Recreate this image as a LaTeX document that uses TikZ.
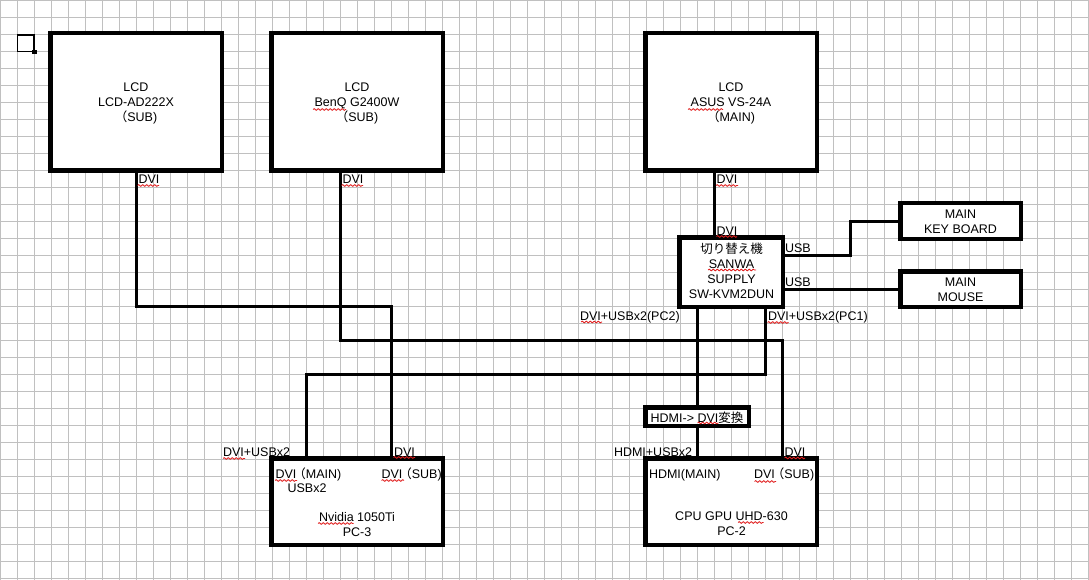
\documentclass[tikz,border=0pt]{standalone}
\usepackage{fontspec}
\setmainfont{Liberation Sans}
\newfontfamily\jp{Noto Sans CJK JP}
\usetikzlibrary{decorations.pathmorphing}
\definecolor{gridc}{RGB}{192,192,192}
\definecolor{wavec}{RGB}{225,30,30}
\newcommand\zkp{\kern-3pt{\jp （}}
\begin{document}
\begin{tikzpicture}[x=1pt,y=-1pt,
  box/.style={draw, line width=3pt, fill=white, inner sep=0pt, rectangle},
  wire/.style={line width=3pt},
  lbl/.style={inner sep=0pt, outer sep=0pt, font=\fontsize{12.5}{15}\selectfont},
  ml/.style={lbl, align=center, anchor=base},
  wavy/.style={draw=wavec, line width=0.8pt, decorate,
    decoration={snake, amplitude=0.9pt, segment length=4pt}}]
\useasboundingbox (0,0) rectangle (1089,580);
\fill[white] (0,0) rectangle (1089,580);
% grid
\foreach \i in {0,...,64} \draw[gridc, line width=1pt] (17*\i+0.5,0) -- (17*\i+0.5,580);
\foreach \j in {0,...,34} \draw[gridc, line width=1pt] (0,17*\j+0.5) -- (1089,17*\j+0.5);

% selection handle
\draw[line width=1.5pt] (17.5,35) rectangle (34,51.5);
\fill (32,50) rectangle (36.5,54.3);

% boxes
\node[box, minimum width=170pt, minimum height=136pt] (lcd1) at (136,102) {};
\node[box, minimum width=170pt, minimum height=136pt] (lcd2) at (357,102) {};
\node[box, minimum width=170pt, minimum height=136pt] (lcd3) at (731,102) {};
\node[box, minimum width=102pt, minimum height=68pt] (sw) at (731,272) {};
\node[box, minimum width=119pt, minimum height=34pt] (kb) at (960.5,221) {};
\node[box, minimum width=119pt, minimum height=34pt] (ms) at (960.5,289) {};
\node[box, minimum width=102pt, minimum height=17pt] (hdmi) at (697,416.5) {};
\node[box, minimum width=170pt, minimum height=85pt] (pc3) at (357,501.5) {};
\node[box, minimum width=170pt, minimum height=85pt] (pc2) at (731,501.5) {};

% bend coordinates
\coordinate (j1) at (391,306);
\coordinate (b2) at (340,340);
\coordinate (b2r) at (782,340);
\coordinate (x3) at (714,200);
\coordinate (u1) at (850,255);
\coordinate (p2) at (697,380);
\coordinate (p1) at (765,374);
\coordinate (p1l) at (306,374);

% wires
\draw[wire] (lcd1.south) |- (j1) -- (j1 |- pc3.north);
\draw[wire] (b2 |- lcd2.south) -- (b2) -- (b2r) -- (b2r |- pc2.north);
\draw[wire] (lcd3.south -| x3) -- (sw.north -| x3);
\draw[wire] (sw.east |- u1) -- (u1) |- (kb.west);
\draw[wire] (sw.east |- ms.west) -- (ms.west);
\draw[wire] (sw.south -| p2) -- (hdmi.north);
\draw[wire] (hdmi.south) -- (hdmi.south |- pc2.north);
\draw[wire] (sw.south -| p1) -- (p1) -- (p1l) -- (p1l |- pc3.north);

% redraw box borders on top of wires
\foreach \n in {lcd1,lcd2,lcd3,sw,kb,ms,hdmi,pc3,pc2}
  \draw[line width=3pt] (\n.north west) rectangle (\n.south east);

% box texts (anchor = baseline of last line)
\node[ml] (tlcd1) at (136,121.5) {LCD\\LCD-AD222X\\{\jp （}SUB)};
\node[ml] (tlcd2) at (357,121.5) {LCD\\BenQ G2400W\\{\jp （}SUB)};
\node[ml] (tlcd3) at (731,121.5) {LCD\\ASUS VS-24A\\{\jp （}MAIN)};
\node[ml] (tsw) at (731.5,298.5) {{\jp 切り替え機}\\SANWA\\SUPPLY\\SW-KVM2DUN};
\node[ml] (tkb) at (960.5,233.5) {MAIN\\KEY BOARD};
\node[ml] (tms) at (960.5,301) {MAIN\\MOUSE};
\node[ml] (thdmi) at (697,422) {HDMI-> DVI{\jp 変換}};
\node[ml] (tpc3) at (357,536.5) {Nvidia 1050Ti\\PC-3};
\node[ml] (tpc2) at (731.5,535) {CPU GPU UHD-630\\PC-2};

% port labels
\node[lbl, anchor=base west] (l1) at (138.5,183.5) {DVI};
\node[lbl, anchor=base west] (l2) at (342.5,183.5) {DVI};
\node[lbl, anchor=base west] (l3) at (716.5,183.5) {DVI};
\node[lbl, anchor=base west] (l4) at (716.5,235.5) {DVI};
\node[lbl, anchor=base west] (l5) at (785,252.5) {USB};
\node[lbl, anchor=base west] (l6) at (785,286.5) {USB};
\node[lbl, anchor=base west] (l7) at (580,320) {DVI+USBx2(PC2)};
\node[lbl, anchor=base west] (l8) at (768,320) {DVI+USBx2(PC1)};
\node[lbl, anchor=base west] (l9) at (223,456.5) {DVI+USBx2};
\node[lbl, anchor=base west] (l10) at (394,456.5) {DVI};
\node[lbl, anchor=base west] (l11) at (614,456) {HDMI+USBx2};
\node[lbl, anchor=base west] (l12) at (784.5,456) {DVI};
\node[lbl, anchor=base west] (l13) at (275.5,478) {DVI\zkp MAIN)};
\node[lbl, anchor=base] (l14) at (307,492.5) {USBx2};
\node[lbl, anchor=base west] (l15) at (381.5,478) {DVI\zkp SUB)};
\node[lbl, anchor=base west] (l16) at (649,478.5) {HDMI(MAIN)};
\node[lbl, anchor=base west] (l17) at (754,478.5) {DVI\zkp SUB)};

% spell-check wavy underlines
\draw[wavy] (137.5,185.5) -- (159,185.5);
\draw[wavy] (341.5,185.5) -- (363,185.5);
\draw[wavy] (716,185.5) -- (738,185.5);
\draw[wavy] (313,109.5) -- (346,109.5);
\draw[wavy] (688,109.5) -- (723,109.5);
\draw[wavy] (716.5,236.5) -- (737,236.5);
\draw[wavy] (708,270) -- (756,270);
\draw[wavy] (581,322) -- (602,322);
\draw[wavy] (767.5,322.5) -- (788.5,322.5);
\draw[wavy] (223,458.5) -- (245,458.5);
\draw[wavy] (393.5,457.5) -- (415,457.5);
\draw[wavy] (275,480.5) -- (297,480.5);
\draw[wavy] (381.5,480.5) -- (404,480.5);
\draw[wavy] (318,523.5) -- (353.5,523.5);
\draw[wavy] (697.5,423) -- (718.5,423);
\draw[wavy] (784.5,458) -- (805,458);
\draw[wavy] (754.5,481.5) -- (776,481.5);
\draw[wavy] (738,522.5) -- (763.5,522.5);
\end{tikzpicture}
\end{document}
